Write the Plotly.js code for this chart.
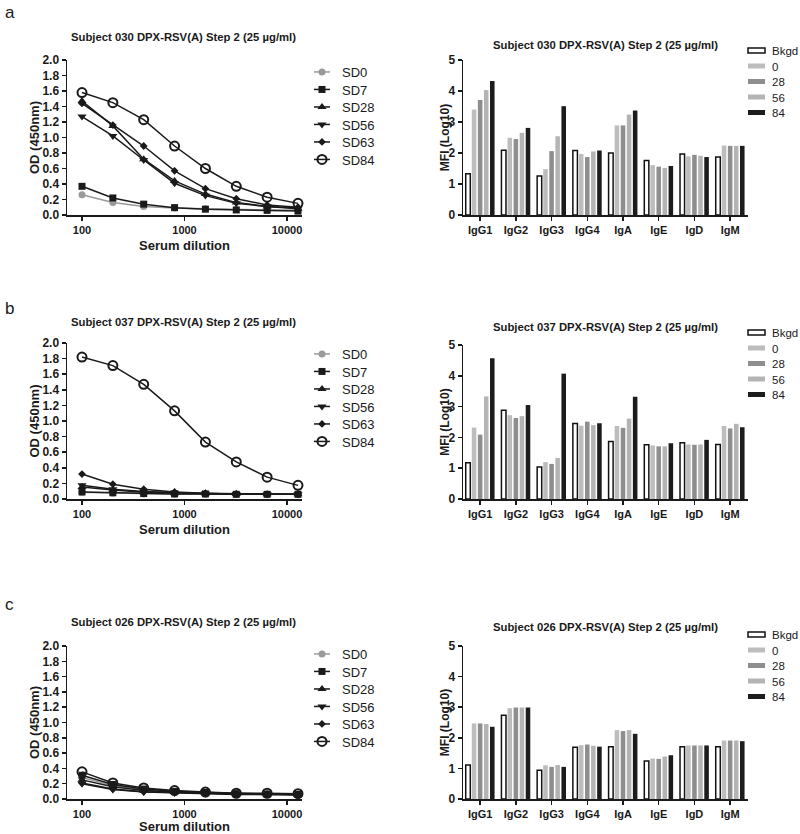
<!DOCTYPE html>
<html>
<head>
<meta charset="utf-8">
<script src="https://cdn.plot.ly/plotly-3.0.1.min.js"></script>
<style>html,body{margin:0;padding:0;background:#fff;overflow:hidden;}#chart{width:800px;height:834px;}</style>
</head>
<body>
<div id="chart"></div>
<script>
// ---------------- DATA ----------------
const dilutions = [100, 200, 400, 800, 1600, 3200, 6400, 12800];
const lineSeries = ['SD0', 'SD7', 'SD28', 'SD56', 'SD63', 'SD84'];

// Panel a (Subject 030) OD values
const a_SD0  = [0.26, 0.16, 0.11, 0.09, 0.08, 0.07, 0.065, 0.065];
const a_SD7  = [0.37, 0.22, 0.14, 0.095, 0.075, 0.065, 0.06, 0.05];
const a_SD28 = [1.47, 1.15, 0.72, 0.44, 0.27, 0.16, 0.11, 0.08];
const a_SD56 = [1.27, 1.02, 0.71, 0.41, 0.25, 0.15, 0.11, 0.09];
const a_SD63 = [1.44, 1.16, 0.89, 0.57, 0.34, 0.21, 0.13, 0.10];
const a_SD84 = [1.58, 1.45, 1.23, 0.89, 0.60, 0.37, 0.23, 0.15];

// Panel b (Subject 037) OD values
const b_SD0  = [0.085, 0.075, 0.065, 0.06, 0.06, 0.06, 0.06, 0.06];
const b_SD7  = [0.09, 0.08, 0.07, 0.065, 0.065, 0.06, 0.06, 0.06];
const b_SD28 = [0.155, 0.115, 0.085, 0.075, 0.07, 0.065, 0.06, 0.06];
const b_SD56 = [0.175, 0.125, 0.095, 0.08, 0.07, 0.065, 0.06, 0.06];
const b_SD63 = [0.32, 0.19, 0.125, 0.09, 0.075, 0.065, 0.06, 0.06];
const b_SD84 = [1.82, 1.71, 1.47, 1.13, 0.73, 0.475, 0.28, 0.175];

// Panel c (Subject 026) OD values
const c_SD0  = [0.28, 0.175, 0.12, 0.095, 0.085, 0.07, 0.065, 0.06];
const c_SD7  = [0.31, 0.19, 0.13, 0.10, 0.085, 0.07, 0.065, 0.06];
const c_SD28 = [0.25, 0.16, 0.11, 0.09, 0.08, 0.065, 0.06, 0.055];
const c_SD56 = [0.20, 0.125, 0.09, 0.08, 0.07, 0.06, 0.06, 0.055];
const c_SD63 = [0.21, 0.13, 0.095, 0.085, 0.075, 0.065, 0.065, 0.06];
const c_SD84 = [0.355, 0.21, 0.145, 0.11, 0.09, 0.075, 0.075, 0.07];

// Isotype MFI (log10)
const isotypes = ['IgG1', 'IgG2', 'IgG3', 'IgG4', 'IgA', 'IgE', 'IgD', 'IgM'];
const timepoints = ['Bkgd', '0', '28', '56', '84'];

const a_Bkgd = [1.33, 2.09, 1.26, 2.08, 2.00, 1.76, 1.97, 1.87];
const a_0    = [3.40, 2.49, 1.48, 1.97, 2.89, 1.61, 1.89, 2.24];
const a_28   = [3.71, 2.45, 2.06, 1.87, 2.89, 1.56, 1.94, 2.23];
const a_56   = [4.03, 2.65, 2.54, 2.05, 3.24, 1.52, 1.91, 2.23];
const a_84   = [4.32, 2.81, 3.51, 2.08, 3.37, 1.58, 1.87, 2.23];

const b_Bkgd = [1.18, 2.88, 1.04, 2.45, 1.87, 1.76, 1.83, 1.77];
const b_0    = [2.32, 2.72, 1.20, 2.38, 2.37, 1.74, 1.77, 2.37];
const b_28   = [2.09, 2.63, 1.14, 2.51, 2.31, 1.71, 1.76, 2.29];
const b_56   = [3.33, 2.69, 1.33, 2.40, 2.61, 1.71, 1.77, 2.44];
const b_84   = [4.57, 3.05, 4.07, 2.46, 3.32, 1.81, 1.92, 2.33];

const c_Bkgd = [1.11, 2.74, 0.94, 1.69, 1.71, 1.24, 1.71, 1.71];
const c_0    = [2.47, 2.97, 1.10, 1.76, 2.25, 1.32, 1.75, 1.91];
const c_28   = [2.47, 2.99, 1.05, 1.78, 2.22, 1.31, 1.75, 1.91];
const c_56   = [2.45, 2.99, 1.11, 1.74, 2.25, 1.39, 1.75, 1.91];
const c_84   = [2.36, 2.99, 1.05, 1.71, 2.13, 1.43, 1.75, 1.89];

const titles = [
  'Subject 030 DPX-RSV(A) Step 2 (25 \u00b5g/ml)',
  'Subject 037 DPX-RSV(A) Step 2 (25 \u00b5g/ml)',
  'Subject 026 DPX-RSV(A) Step 2 (25 \u00b5g/ml)'
];
const panelLetters = ['a', 'b', 'c'];

// ---------------- STYLES ----------------
const FONT = '"Liberation Sans", Arial, Helvetica, sans-serif';
const INK = '#1a1a1a';
const lineStyles = {
  SD0:  {color: '#9a9a9a', symbol: 'circle', size: 7, lw: 1.5},
  SD7:  {color: INK, symbol: 'square', size: 7, lw: 1.5},
  SD28: {color: INK, symbol: 'triangle-up', size: 8, lw: 1.5},
  SD56: {color: INK, symbol: 'triangle-down', size: 8, lw: 1.5},
  SD63: {color: INK, symbol: 'diamond', size: 6, lw: 1.5},
  SD84: {color: INK, symbol: 'circle-open', size: 9, lw: 1.5}
};
const barStyles = {
  'Bkgd': {fill: '#ffffff', line: '#111111', lw: 1.5},
  '0':    {fill: '#bdbdbd', line: '#bdbdbd', lw: 0},
  '28':   {fill: '#8e8e8e', line: '#8e8e8e', lw: 0},
  '56':   {fill: '#b4b4b4', line: '#b4b4b4', lw: 0},
  '84':   {fill: '#1c1c1c', line: '#1c1c1c', lw: 0}
};

const lineData = [
  {SD0: a_SD0, SD7: a_SD7, SD28: a_SD28, SD56: a_SD56, SD63: a_SD63, SD84: a_SD84},
  {SD0: b_SD0, SD7: b_SD7, SD28: b_SD28, SD56: b_SD56, SD63: b_SD63, SD84: b_SD84},
  {SD0: c_SD0, SD7: c_SD7, SD28: c_SD28, SD56: c_SD56, SD63: c_SD63, SD84: c_SD84}
];
const barData = [
  {'Bkgd': a_Bkgd, '0': a_0, '28': a_28, '56': a_56, '84': a_84},
  {'Bkgd': b_Bkgd, '0': b_0, '28': b_28, '56': b_56, '84': b_84},
  {'Bkgd': c_Bkgd, '0': c_0, '28': c_28, '56': c_56, '84': c_84}
];

// ---------------- LAYOUT GEOMETRY (pixels) ----------------
const W = 800, H = 834;
const px = v => v / W;
const py = v => (H - v) / H;
const rows = [
  {lineTop: 60, lineBot: 215, barTop: 60, barBot: 215, lineTitleY: 37, barTitleY: 45,
   lineLegRow: 72, barLegRow: 51, letterY: 12},
  {lineTop: 343, lineBot: 499, barTop: 345, barBot: 499, lineTitleY: 322, barTitleY: 327,
   lineLegRow: 354, barLegRow: 333, letterY: 308},
  {lineTop: 646, lineBot: 799, barTop: 646, barBot: 799, lineTitleY: 622, barTitleY: 627,
   lineLegRow: 654, barLegRow: 635, letterY: 604}
];
const lineX = [67, 302];
const barX = [463, 748];
const lineLegLeft = 302, barLegLeft = 732;
const legRowOffset = 15;
const lineYTitleX = 35, barYTitleX = 445;

const traces = [];
const layout = {
  width: W, height: H,
  margin: {l: 0, r: 0, t: 0, b: 0, autoexpand: false},
  paper_bgcolor: '#ffffff', plot_bgcolor: '#ffffff',
  font: {family: FONT, color: INK},
  barmode: 'group', bargap: 0.15, bargroupgap: 0.25,
  showlegend: true,
  annotations: []
};

const axisCommon = {
  showline: true, linecolor: INK, linewidth: 1.5,
  ticks: 'outside', ticklen: 4, tickwidth: 1.5, tickcolor: INK,
  showgrid: false, zeroline: false, fixedrange: true
};

rows.forEach((r, i) => {
  const lx = 2 * i + 1, bx = 2 * i + 2;
  const lxName = lx === 1 ? 'xaxis' : 'xaxis' + lx;
  const lyName = lx === 1 ? 'yaxis' : 'yaxis' + lx;
  const bxName = 'xaxis' + bx, byName = 'yaxis' + bx;
  const lxRef = lx === 1 ? 'x' : 'x' + lx, lyRef = lx === 1 ? 'y' : 'y' + lx;
  const bxRef = 'x' + bx, byRef = 'y' + bx;
  const lLeg = lx === 1 ? 'legend' : 'legend' + lx;
  const bLeg = 'legend' + bx;

  lineSeries.forEach(s => {
    const st = lineStyles[s];
    traces.push({
      type: 'scatter', mode: 'lines+markers', name: s,
      x: dilutions, y: lineData[i][s],
      xaxis: lxRef, yaxis: lyRef, legend: lLeg,
      cliponaxis: false,
      line: {color: st.color, width: st.lw},
      marker: {color: st.color, symbol: st.symbol, size: st.size,
               line: {color: st.color, width: s === 'SD84' ? 2 : 0}}
    });
  });
  timepoints.forEach(t => {
    const st = barStyles[t];
    traces.push({
      type: 'bar', name: t,
      x: isotypes, y: barData[i][t],
      xaxis: bxRef, yaxis: byRef, legend: bLeg,
      marker: {color: st.fill, line: {color: st.line, width: st.lw}}
    });
  });

  layout[lxName] = Object.assign({}, axisCommon, {
    domain: [px(lineX[0]), px(lineX[1])], anchor: lyRef,
    type: 'log', range: [Math.log10(100) - 15 / 102.5, Math.log10(100) + 220 / 102.5],
    tickvals: [100, 1000, 10000], ticktext: ['100', '1000', '10000'],
    tickfont: {size: 11, weight: 700, family: FONT, color: INK},
    title: {text: 'Serum dilution', font: {size: 13, weight: 700, family: FONT, color: INK}, standoff: 6}
  });
  layout[lyName] = Object.assign({}, axisCommon, {
    domain: [py(r.lineBot), py(r.lineTop)], anchor: lxRef,
    range: [0, 2], dtick: 0.2, tick0: 0, tickformat: '.1f',
    tickfont: {size: 12, weight: 700, family: FONT, color: INK},
    title: {text: 'OD (450nm)', font: {size: 13, weight: 700, family: FONT, color: INK}, standoff: 1}
  });
  layout[bxName] = Object.assign({}, axisCommon, {
    domain: [px(barX[0]), px(barX[1])], anchor: byRef,
    type: 'category', range: [-0.48, 7.5],
    tickfont: {size: 11, weight: 700, family: FONT, color: INK}
  });
  layout[byName] = Object.assign({}, axisCommon, {
    domain: [py(r.barBot), py(r.barTop)], anchor: bxRef,
    range: [0, 5], dtick: 1, tick0: 0,
    tickfont: {size: 12, weight: 700, family: FONT, color: INK},
    title: {text: 'MFI (Log10)', font: {size: 12, weight: 700, family: FONT, color: INK}, standoff: 0}
  });

  layout[lLeg] = {
    x: px(lineLegLeft), y: py(r.lineLegRow - legRowOffset), xanchor: 'left', yanchor: 'top',
    xref: 'container', yref: 'container', bgcolor: 'rgba(0,0,0,0)', borderwidth: 0,
    font: {size: 13, family: FONT, color: INK}, itemwidth: 30
  };
  layout[bLeg] = {
    x: px(barLegLeft), y: py(r.barLegRow - legRowOffset), xanchor: 'left', yanchor: 'top',
    xref: 'container', yref: 'container', bgcolor: 'rgba(0,0,0,0)', borderwidth: 0,
    font: {size: 11.5, family: FONT, color: INK}, itemwidth: 30
  };

  layout.annotations.push({
    text: titles[i], xref: 'paper', yref: 'paper',
    x: px(183), y: py(r.lineTitleY), xanchor: 'center', yanchor: 'middle',
    showarrow: false, font: {size: 11.3, weight: 700, family: FONT, color: INK}
  });
  layout.annotations.push({
    text: titles[i], xref: 'paper', yref: 'paper',
    x: px(605), y: py(r.barTitleY), xanchor: 'center', yanchor: 'middle',
    showarrow: false, font: {size: 11.3, weight: 700, family: FONT, color: INK}
  });
  layout.annotations.push({
    text: panelLetters[i], xref: 'paper', yref: 'paper',
    x: px(3), y: py(r.letterY), xanchor: 'left', yanchor: 'middle',
    showarrow: false, font: {size: 17, family: FONT, color: INK}
  });
});

// ---------------- post-render fine tuning (idempotent) ----------------
function prependShift(el, dx, dy) {
  if (Math.abs(dx) < 0.25 && Math.abs(dy) < 0.25) return;
  const tr = el.getAttribute('transform') || '';
  el.setAttribute('transform', 'translate(' + dx.toFixed(2) + ',' + dy.toFixed(2) + ') ' + tr);
}

function tweak() {
  const gd = document.getElementById('chart');
  if (!gd) return;
  ['legend', 'legend2', 'legend3', 'legend4', 'legend5', 'legend6'].forEach((id, k) => {
    const g = gd.querySelector('g.' + id);
    if (!g) return;
    const isBar = (k % 2) === 1;
    const spacing = isBar ? 15.5 : 17.5;
    let y0 = null;
    g.querySelectorAll('g.traces').forEach((it, j) => {
      const tr = it.getAttribute('transform') || '';
      const m = tr.match(/translate\(\s*([-\d.e]+)[\s,]+([-\d.e]+)\s*\)/);
      if (!m) return;
      const x = parseFloat(m[1]), y = parseFloat(m[2]);
      if (y0 === null) y0 = y;
      it.setAttribute('transform', 'translate(' + x + ',' + (y0 + j * spacing) + ')');
    });
    g.querySelectorAll('text.legendtext').forEach(t => { t.style.fill = INK; });
    if (isBar) {
      g.querySelectorAll('g.traces path').forEach(p => {
        const d = p.getAttribute('d') || '';
        if (p.classList.contains('legendbar') || d.indexOf('M6,6H-6V-6H6Z') === 0 || p.getAttribute('data-key') === '1') {
          p.setAttribute('d', 'M13,2.5H-4V-2.5H13Z');
          p.setAttribute('data-key', '1');
        }
      });
    } else {
      g.querySelectorAll('.legendlines path').forEach(p => p.setAttribute('d', 'M12,0h16'));
    }
  });
  [['g-ytitle', lineYTitleX], ['g-y3title', lineYTitleX], ['g-y5title', lineYTitleX],
   ['g-y2title', barYTitleX], ['g-y4title', barYTitleX], ['g-y6title', barYTitleX]].forEach(([cls, tx]) => {
    const g = gd.querySelector('g.' + cls);
    if (!g) return;
    const rb = g.getBoundingClientRect();
    prependShift(g, tx - (rb.left + rb.width / 2), 0);
  });
}

Plotly.newPlot('chart', traces, layout, {staticPlot: true, displayModeBar: false})
  .then(gd => {
    tweak();
    if (gd.on) gd.on('plotly_afterplot', () => setTimeout(tweak, 0));
    [50, 200, 500, 1000].forEach(t => setTimeout(tweak, t));
  });
</script>
</body>
</html>
